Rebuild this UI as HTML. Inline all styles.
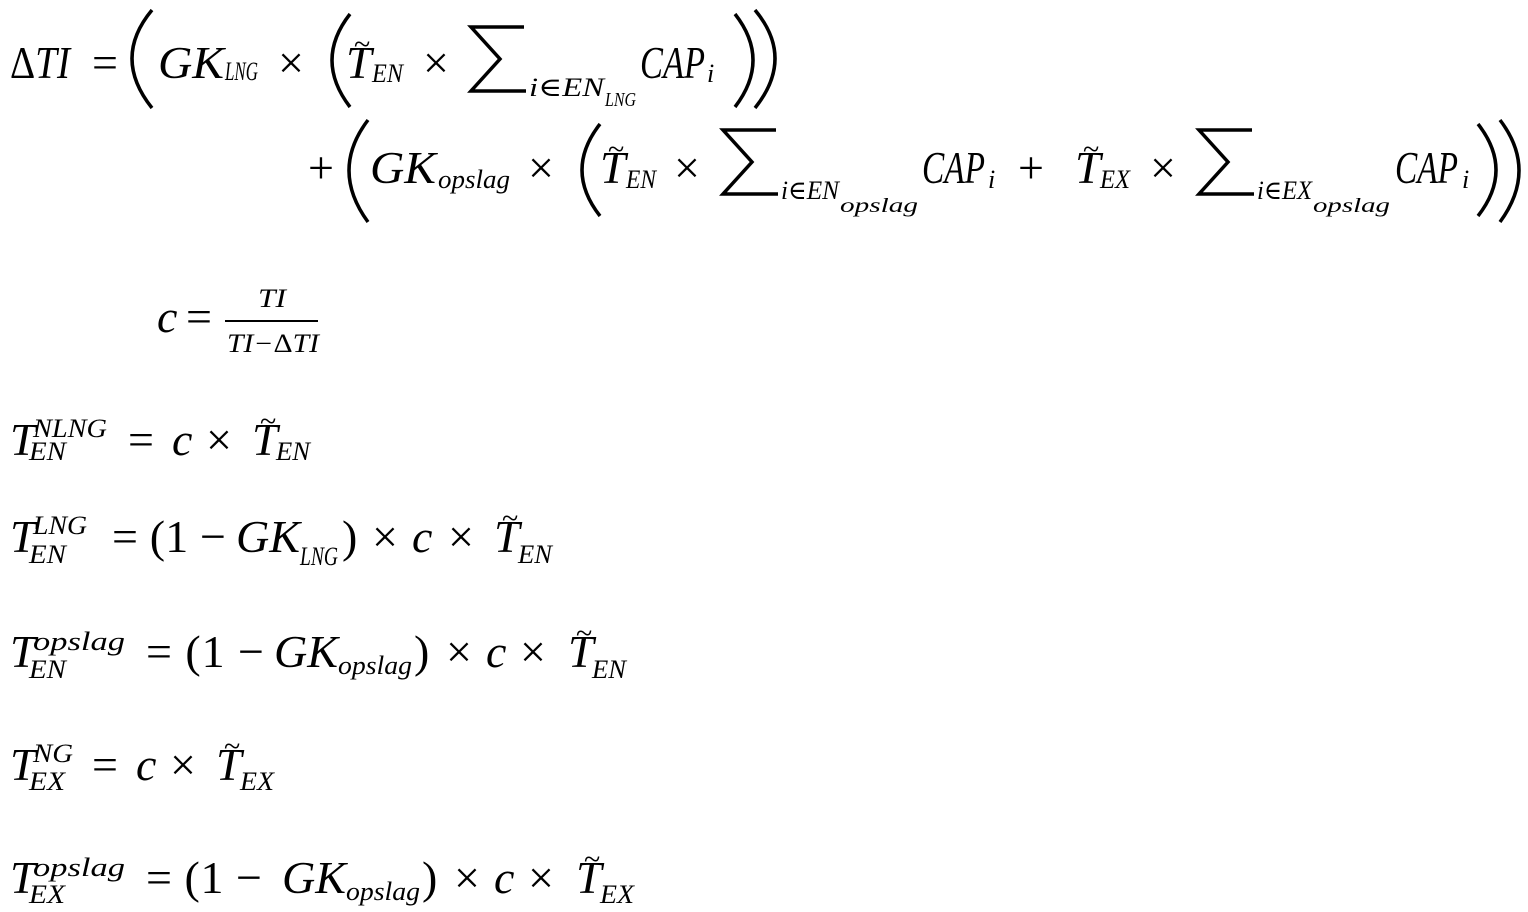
<!DOCTYPE html>
<html><head><meta charset="utf-8"><style>
html,body{margin:0;padding:0;background:#fff;}
svg{display:block}
text{font-family:"Liberation Serif","DejaVu Serif",serif;font-style:italic;fill:#000}
.u{font-style:normal}
</style></head><body>
<svg width="1528" height="912" viewBox="0 0 1528 912" xmlns="http://www.w3.org/2000/svg">
<g fill="none" stroke="#000" stroke-width="3.5">
<path d="M152 10 Q112 58 152 108"/>
<path d="M350 14 Q314 60 350 107"/>
<path d="M735 14 Q771 60 735 107"/>
<path d="M755 10 Q795 58 755 108"/>
<path d="M368 120 Q330 170 368 222"/>
<path d="M600 124 Q564 170 600 216"/>
<path d="M1478 124 Q1514 170 1478 216"/>
<path d="M1500 120 Q1538 170 1500 222"/>
<path d="M225 321 H318" stroke-width="2"/>
</g>
<g fill="none" stroke="#000" stroke-width="3.5" stroke-linejoin="miter">
<path d="M524 27 H471 L500 59 L471 91 H526"/>
<path d="M776 130 H723 L752 162 L723 194 H778"/>
<path d="M1252 130 H1199 L1228 162 L1199 194 H1254"/>
</g>
<g font-size="46">
<text x="10" y="78" textLength="60" lengthAdjust="spacingAndGlyphs" class="u">Δ<tspan font-style="italic">TI</tspan></text>
<text x="92" y="78" class="u">=</text>
<text x="158" y="78" textLength="66" lengthAdjust="spacingAndGlyphs">GK</text>
<text x="278" y="78" class="u">×</text>
<text x="346" y="78">T</text><text x="354" y="54" class="u" font-size="30">~</text>
<text x="423" y="78" class="u">×</text>
<text x="640" y="78" textLength="65" lengthAdjust="spacingAndGlyphs">CAP</text>

<text x="308" y="183" class="u">+</text>
<text x="370" y="183" textLength="66" lengthAdjust="spacingAndGlyphs">GK</text>
<text x="528" y="183" class="u">×</text>
<text x="600" y="183">T</text><text x="608" y="159" class="u" font-size="30">~</text>
<text x="674" y="183" class="u">×</text>
<text x="922" y="183" textLength="63" lengthAdjust="spacingAndGlyphs">CAP</text>
<text x="1018" y="183" class="u">+</text>
<text x="1075" y="183">T</text><text x="1083" y="159" class="u" font-size="30">~</text>
<text x="1150" y="183" class="u">×</text>
<text x="1395" y="183" textLength="63" lengthAdjust="spacingAndGlyphs">CAP</text>

<text x="157" y="332">c</text>
<text x="186" y="332" class="u">=</text>

<text x="10" y="455">T</text>
<text x="128" y="455" class="u">=</text><text x="172" y="455">c</text><text x="206" y="455" class="u">×</text>
<text x="252" y="455">T</text><text x="260" y="431" class="u" font-size="30">~</text>

<text x="10" y="552">T</text>
<text x="112" y="552" class="u" textLength="114" lengthAdjust="spacing">= (1 −</text><text x="236" y="552" textLength="64" lengthAdjust="spacingAndGlyphs">GK</text>
<text x="342" y="552" class="u">)</text><text x="372" y="552" class="u">×</text><text x="412" y="552">c</text><text x="448" y="552" class="u">×</text>
<text x="494" y="552">T</text><text x="502" y="528" class="u" font-size="30">~</text>

<text x="10" y="667">T</text>
<text x="146" y="667" class="u" textLength="118" lengthAdjust="spacing">= (1 −</text><text x="274" y="667" textLength="64" lengthAdjust="spacingAndGlyphs">GK</text>
<text x="414" y="667" class="u">)</text><text x="446" y="667" class="u">×</text><text x="486" y="667">c</text><text x="520" y="667" class="u">×</text>
<text x="568" y="667">T</text><text x="576" y="643" class="u" font-size="30">~</text>

<text x="10" y="780">T</text>
<text x="92" y="780" class="u">=</text><text x="136" y="780">c</text><text x="170" y="780" class="u">×</text>
<text x="216" y="780">T</text><text x="224" y="756" class="u" font-size="30">~</text>

<text x="10" y="893">T</text>
<text x="146" y="893" class="u" textLength="116" lengthAdjust="spacing">= (1 −</text><text x="282" y="893" textLength="64" lengthAdjust="spacingAndGlyphs">GK</text>
<text x="422" y="893" class="u">)</text><text x="454" y="893" class="u">×</text><text x="494" y="893">c</text><text x="528" y="893" class="u">×</text>
<text x="576" y="893">T</text><text x="584" y="869" class="u" font-size="30">~</text>
</g>
<g font-size="26">
<text x="225" y="80" textLength="33" lengthAdjust="spacingAndGlyphs">LNG</text>
<text x="372" y="82" textLength="31" lengthAdjust="spacingAndGlyphs">EN</text>
<text x="529" y="96" textLength="75" lengthAdjust="spacingAndGlyphs">i∈EN</text>
<text x="707" y="82">i</text>

<text x="438" y="188" textLength="72" lengthAdjust="spacingAndGlyphs">opslag</text>
<text x="626" y="188" textLength="30" lengthAdjust="spacingAndGlyphs">EN</text>
<text x="781" y="199" textLength="58" lengthAdjust="spacingAndGlyphs">i∈EN</text>
<text x="988" y="188">i</text>
<text x="1100" y="188" textLength="30" lengthAdjust="spacingAndGlyphs">EX</text>
<text x="1257" y="199" textLength="55" lengthAdjust="spacingAndGlyphs">i∈EX</text>
<text x="1462" y="188">i</text>

<text x="33" y="437" textLength="74" lengthAdjust="spacingAndGlyphs">NLNG</text><text x="29" y="460" textLength="37" lengthAdjust="spacingAndGlyphs">EN</text>
<text x="276" y="460" textLength="34" lengthAdjust="spacingAndGlyphs">EN</text>
<text x="33" y="534" textLength="54" lengthAdjust="spacingAndGlyphs">LNG</text><text x="29" y="563" textLength="37" lengthAdjust="spacingAndGlyphs">EN</text>
<text x="300" y="565" textLength="38" lengthAdjust="spacingAndGlyphs">LNG</text>
<text x="518" y="563" textLength="34" lengthAdjust="spacingAndGlyphs">EN</text>
<text x="33" y="650" textLength="92" lengthAdjust="spacingAndGlyphs">opslag</text><text x="29" y="678" textLength="37" lengthAdjust="spacingAndGlyphs">EN</text>
<text x="338" y="674" textLength="74" lengthAdjust="spacingAndGlyphs">opslag</text>
<text x="592" y="678" textLength="34" lengthAdjust="spacingAndGlyphs">EN</text>
<text x="33" y="762" textLength="40" lengthAdjust="spacingAndGlyphs">NG</text><text x="29" y="790" textLength="36" lengthAdjust="spacingAndGlyphs">EX</text>
<text x="240" y="790" textLength="34" lengthAdjust="spacingAndGlyphs">EX</text>
<text x="33" y="876" textLength="92" lengthAdjust="spacingAndGlyphs">opslag</text><text x="29" y="903" textLength="36" lengthAdjust="spacingAndGlyphs">EX</text>
<text x="346" y="900" textLength="74" lengthAdjust="spacingAndGlyphs">opslag</text>
<text x="600" y="903" textLength="34" lengthAdjust="spacingAndGlyphs">EX</text>

<text x="258" y="307" textLength="28" lengthAdjust="spacingAndGlyphs">TI</text>
<text x="227" y="352" textLength="92" lengthAdjust="spacingAndGlyphs">TI−<tspan font-style="normal">Δ</tspan>TI</text>
</g>
<g font-size="20">
<text x="605" y="106" textLength="31" lengthAdjust="spacingAndGlyphs">LNG</text>
<text x="840" y="212" textLength="78" lengthAdjust="spacingAndGlyphs">opslag</text>
<text x="1313" y="212" textLength="77" lengthAdjust="spacingAndGlyphs">opslag</text>
</g>
</svg>
</body></html>
